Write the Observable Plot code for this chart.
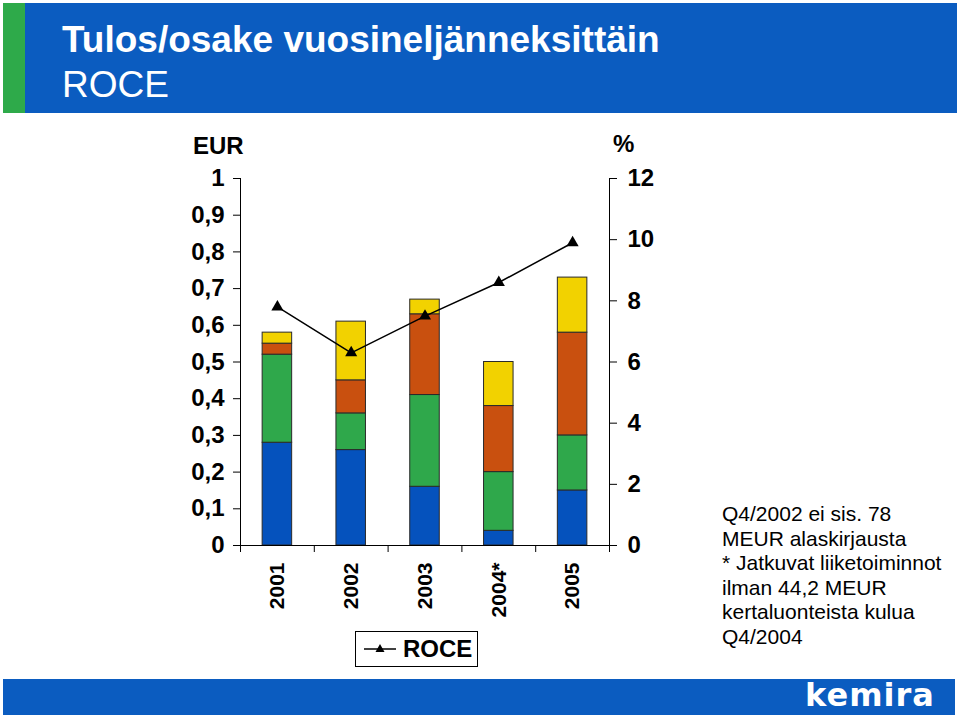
<!DOCTYPE html>
<html>
<head>
<meta charset="utf-8">
<script src="https://cdn.jsdelivr.net/npm/d3@7"></script>
<script src="https://cdn.jsdelivr.net/npm/@observablehq/plot@0.6"></script>
<style>
  html, body { margin: 0; padding: 0; background: #fff; }
  #page { position: relative; width: 960px; height: 720px; overflow: hidden; font-family: "Liberation Sans", Arial, sans-serif; }
  #chart { position: absolute; left: 0; top: 0; }
  .band { position: absolute; background: #0b5cc0; }
  #green { position: absolute; left: 3px; top: 3px; width: 22px; height: 110px; background: #2eaa4a; }
  #title { position: absolute; left: 62px; top: 17px; color: #fff; font-size: 37px; line-height: 45px; white-space: nowrap; }
  #title b { font-weight: bold; }
  #logo { position: absolute; left: 805px; top: 676px; color: #fff; font-family: "DejaVu Sans", sans-serif; font-weight: bold; font-size: 32px; letter-spacing: 1px; line-height: 38px; }
  .unit { position: absolute; font-weight: bold; font-size: 24px; }
  #legend { position: absolute; left: 355px; top: 631px; width: 121px; height: 34px; border: 1px solid #000; display: flex; align-items: center; }
  #legend span { font-weight: bold; font-size: 24px; margin-left: 6px; }
  #note { position: absolute; left: 722px; top: 502px; font-size: 21px; line-height: 24.6px; color: #000; white-space: nowrap; }
</style>
</head>
<body>
<div id="page">
  <div id="chart"></div>
  <div class="band" style="left:3px;top:3px;width:954px;height:110px;"></div>
  <div id="green"></div>
  <div id="title"><b>Tulos/osake vuosineljänneksittäin</b><br>ROCE</div>
  <div class="unit" style="left:193px;top:132px;">EUR</div>
  <div class="unit" style="left:613px;top:130px;">%</div>
  <div id="legend"><svg width="34" height="20" style="margin-left:7px"><line x1="1" y1="10" x2="33" y2="10" stroke="#000" stroke-width="1.5"/><path d="M17,5 L21.5,13 L12.5,13 Z" fill="#000"/></svg><span>ROCE</span></div>
  <div id="note">Q4/2002 ei sis. 78<br>MEUR alaskirjausta<br>* Jatkuvat liiketoiminnot<br>ilman 44,2 MEUR<br>kertaluonteista kulua<br>Q4/2004</div>
  <div class="band" style="left:3px;top:679px;width:952px;height:36px;"></div>
  <div id="logo">kemira</div>
</div>
<script>
// ---- data ----
const years = ["2001", "2002", "2003", "2004*", "2005"];
const seriesNames = ["Q1", "Q2", "Q3", "Q4"];
const q1 = [0.28, 0.26, 0.16, 0.04, 0.15];
const q2 = [0.24, 0.10, 0.25, 0.16, 0.15];
const q3 = [0.03, 0.09, 0.22, 0.18, 0.28];
const q4 = [0.03, 0.16, 0.04, 0.12, 0.15];
const roce = [7.8, 6.3, 7.5, 8.6, 9.9];
const eurTicks = [0, 0.1, 0.2, 0.3, 0.4, 0.5, 0.6, 0.7, 0.8, 0.9, 1];
const pctTicks = [0, 2, 4, 6, 8, 10, 12];
const colors = ["#0552bd", "#2fa84b", "#c9500f", "#f2d200"];

const pctMax = 12;
const seriesValues = [q1, q2, q3, q4];
const bars = [];
years.forEach((y, i) => seriesNames.forEach((s, j) => bars.push({year: y, series: s, value: seriesValues[j][i]})));
const roceRows = years.map((y, i) => ({year: y, roce: roce[i]}));

const W = 960, H = 680, mL = 240, mR = 351, mT = 178, mB = 135;
const step = (W - mL - mR) / years.length;
const tickLen = 7 / (H - mT - mB); // 7px in y-data units

const fmtEur = d => String(+d.toFixed(1)).replace(".", ",");

const chart = Plot.plot({
  width: W, height: H,
  marginLeft: mL, marginRight: mR, marginTop: mT, marginBottom: mB,
  style: {fontFamily: "'Liberation Sans', Arial, sans-serif", fontSize: "24px", fontWeight: "bold", color: "#000", background: "transparent"},
  x: {type: "band", domain: years, paddingInner: 0.6, paddingOuter: 0.3, round: false, label: null},
  y: {domain: [0, 1], label: null},
  color: {domain: seriesNames, range: colors},
  marks: [
    Plot.barY(bars, {x: "year", y: "value", fill: "series", stroke: "#2a2a2a", strokeWidth: 1}),
    Plot.ruleY([0], {stroke: "#000", strokeWidth: 1}),
    Plot.ruleX([years[0]], {dx: -step / 2, y1: -tickLen, y2: 1, stroke: "#000", strokeWidth: 1}),
    Plot.ruleX([years[years.length - 1]], {dx: step / 2, y1: -tickLen, y2: 1, stroke: "#000", strokeWidth: 1}),
    Plot.ruleX(years.slice(1), {dx: -step / 2, y1: -tickLen, y2: 0, stroke: "#000", strokeWidth: 1}),
    Plot.axisY(eurTicks, {anchor: "left", tickSize: 7, tickPadding: 9, tickFormat: fmtEur, label: null}),
    Plot.axisY(pctTicks.map(v => v / pctMax), {anchor: "right", tickSize: 7, tickPadding: 11, tickFormat: d => String(Math.round(d * pctMax)), label: null}),
    Plot.axisX({anchor: "bottom", tickSize: 0, tickPadding: 17, tickRotate: -90, fontSize: 21, label: null}),
    Plot.line(roceRows, {x: "year", y: d => d.roce / pctMax, stroke: "#000", strokeWidth: 1.5}),
    Plot.dot(roceRows, {x: "year", y: d => d.roce / pctMax, symbol: "triangle", fill: "#000", r: 4.5})
  ]
});
document.getElementById("chart").appendChild(chart);
</script>
</body>
</html>
